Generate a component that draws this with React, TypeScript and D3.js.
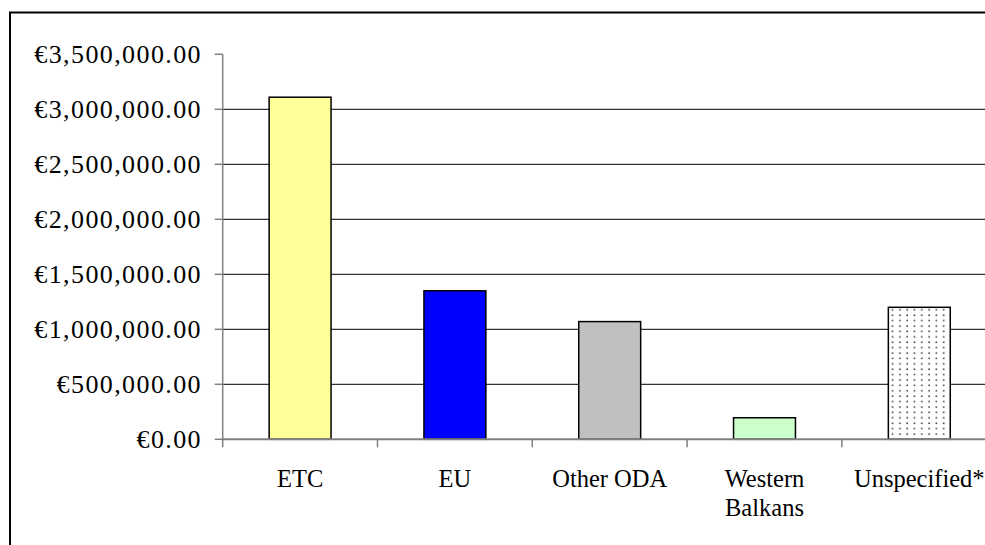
import React from "react";
import * as d3 from "d3";

const categories = ["ETC", "EU", "Other ODA", "Western Balkans", "Unspecified*"];
const categoryLines = [["ETC"], ["EU"], ["Other ODA"], ["Western", "Balkans"], ["Unspecified*"]];
const values = [3110000, 1350000, 1070000, 196000, 1200000];
const barFills = ["#FFFF99", "#0000FF", "#C0C0C0", "#CCFFCC", "url(#dots)"];
const yTicks = [0, 500000, 1000000, 1500000, 2000000, 2500000, 3000000, 3500000];

const W = 985;
const H = 545;
const plotLeft = 222.7;
const plotTop = 54.3;
const plotBottom = 439.3;
const bandW = 154.8;

export default function App() {
  const x = d3
    .scaleBand<string>()
    .domain(categories)
    .range([plotLeft, plotLeft + bandW * categories.length])
    .paddingInner(0)
    .paddingOuter(0);
  const y = d3.scaleLinear().domain([0, 3500000]).range([plotBottom, plotTop]);
  const fmt = (v: number) => "€" + d3.format(",.2f")(v);
  const barW = x.bandwidth() / 2.5;
  const family = '"Liberation Serif", "Times New Roman", serif';

  return (
    <svg
      width={W}
      height={H}
      style={{ position: "absolute", left: 0, top: 0, background: "#fff" }}
    >
      <defs>
        <pattern id="dots" width={7.3} height={5.4} patternUnits="userSpaceOnUse">
          <rect width={7.3} height={5.4} fill="#fff" />
          <circle cx={2} cy={2} r={0.85} fill="#333" />
        </pattern>
      </defs>
      <rect x={0} y={0} width={W} height={H} fill="#fff" />
      <rect x={10} y={12.5} width={W} height={H} fill="none" stroke="#000" strokeWidth={2} />

      {/* gridlines */}
      {yTicks
        .filter((t) => t > 0 && t < 3500000)
        .map((t) => (
          <line
            key={"g" + t}
            x1={plotLeft}
            x2={W}
            y1={y(t)}
            y2={y(t)}
            stroke="#000"
            strokeWidth={1}
          />
        ))}

      {/* bars */}
      {categories.map((c, i) => {
        const cx = (x(c) as number) + x.bandwidth() / 2;
        return (
          <rect
            key={c}
            x={cx - barW / 2}
            y={y(values[i])}
            width={barW}
            height={y(0) - y(values[i])}
            fill={barFills[i]}
            stroke="#000"
            strokeWidth={1.5}
          />
        );
      })}

      {/* y axis */}
      <line x1={plotLeft} x2={plotLeft} y1={plotTop} y2={plotBottom + 8} stroke="#808080" strokeWidth={1.5} />
      {yTicks.map((t) => (
        <g key={"t" + t}>
          <line x1={plotLeft - 8} x2={plotLeft} y1={y(t)} y2={y(t)} stroke="#808080" strokeWidth={1.5} />
          <text
            x={202}
            y={y(t) + 9}
            textAnchor="end"
            style={{ fontFamily: family, fontSize: "26px", letterSpacing: "1.4px" }}
            fill="#000"
          >
            {fmt(t)}
          </text>
        </g>
      ))}

      {/* x axis */}
      <line x1={plotLeft} x2={W} y1={plotBottom} y2={plotBottom} stroke="#808080" strokeWidth={2} />
      {categories.map((c) => (
        <line
          key={"xt" + c}
          x1={(x(c) as number) + x.bandwidth()}
          x2={(x(c) as number) + x.bandwidth()}
          y1={plotBottom}
          y2={plotBottom + 8}
          stroke="#808080"
          strokeWidth={1.5}
        />
      ))}
      {categories.map((c, i) => {
        const cx = (x(c) as number) + x.bandwidth() / 2;
        return (
          <text
            key={"xl" + c}
            x={cx}
            y={487.3}
            textAnchor="middle"
            style={{ fontFamily: family, fontSize: "24.5px" }}
            fill="#000"
          >
            {categoryLines[i].map((ln, j) => (
              <tspan key={j} x={cx} dy={j === 0 ? 0 : 29}>
                {ln}
              </tspan>
            ))}
          </text>
        );
      })}
    </svg>
  );
}
